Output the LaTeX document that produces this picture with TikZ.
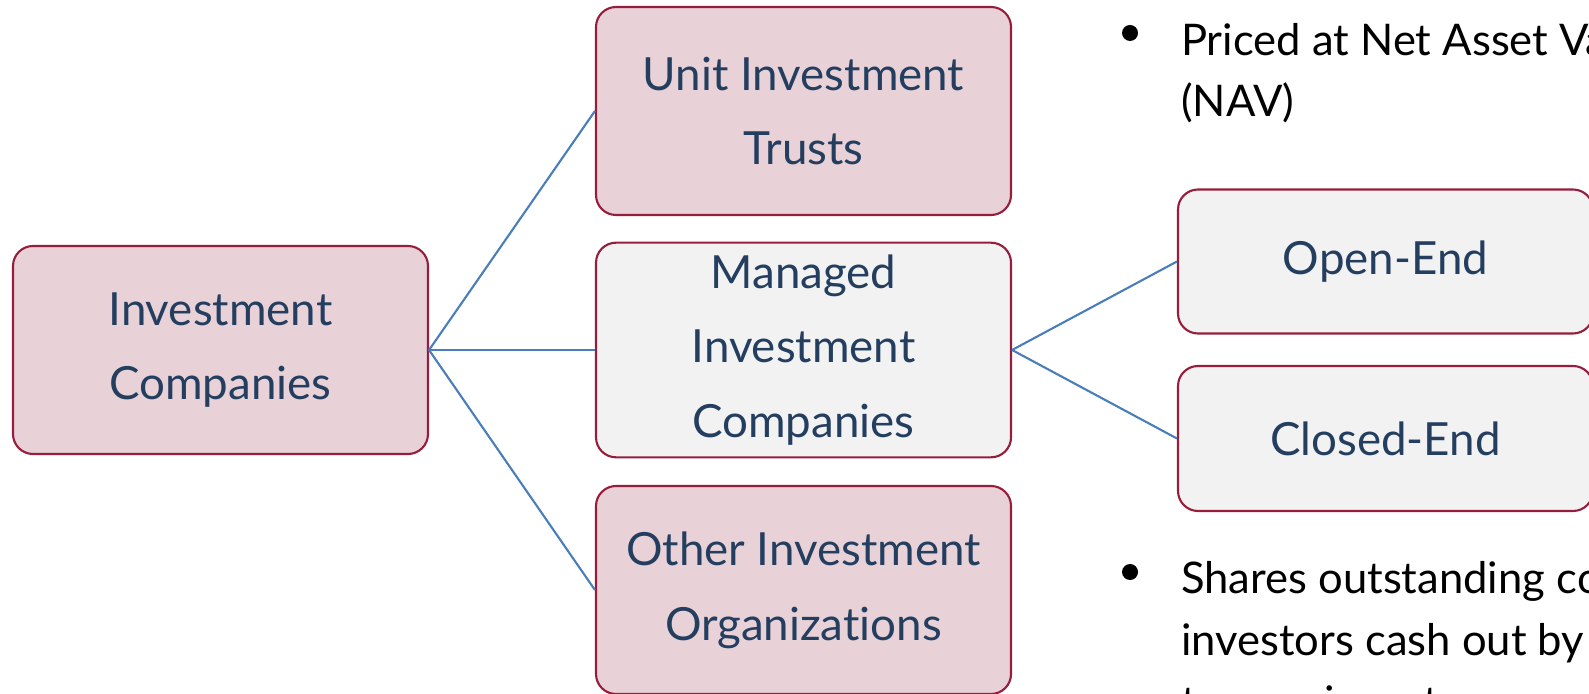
\documentclass[tikz,border=0pt]{standalone}
\usepackage{fontspec}
\setmainfont{Lato}[Ligatures=NoCommon]
\usepackage{tikz}
\usetikzlibrary{arrows.meta}
\usetikzlibrary{calc}

\definecolor{boxline}{RGB}{150,30,60}
\definecolor{pinkfill}{RGB}{232,209,215}
\definecolor{greyfill}{RGB}{242,242,242}
\definecolor{boxtext}{RGB}{36,62,96}
\definecolor{linkblue}{RGB}{74,126,187}

\begin{document}
\begin{tikzpicture}[auto, line width=0.6pt,
        pink_node_style/.style={rectangle,rounded corners=0.2cm,draw=boxline,fill=pinkfill,text=boxtext,minimum width=4.15cm,minimum height=2.08cm,align=center,font=\fontsize{13}{21.3}\selectfont},
        grey_node_style/.style={pink_node_style,fill=greyfill},
        edge_style/.style={draw=linkblue, line width=0.6pt,-},
        dot_style/.style={circle,fill=black,inner sep=0pt,minimum size=0.16cm},
        bullet_style/.style={anchor=base west,align=left,inner sep=0pt,font=\fontsize{12.4}{17.5}\selectfont}]

        \useasboundingbox (0,0) rectangle (15.89,6.93);

        \node [pink_node_style](invest) at (2.205,3.43) {Investment\\Companies};
        \node [pink_node_style](unit) at (8.035,5.82) {Unit Investment\\Trusts};
        \node [grey_node_style](managed) at (8.035,3.43) {Managed\\Investment\\Companies};
        \node [pink_node_style](other) at (8.035,1.03) {Other Investment\\Organizations};
        \node [grey_node_style,minimum height=1.44cm](open) at (13.855,4.315) {Open-End};
        \node [grey_node_style,minimum height=1.45cm](closed) at (13.855,2.545) {Closed-End};

        % base anchor sits on the last line
        \node [dot_style](dot1) at (11.30,6.60) {};
        \node [bullet_style](text1) at (11.80,5.76) {Priced at Net Asset Value\\(NAV)};
        \node [dot_style](dot2) at (11.30,1.21) {};
        \node [bullet_style](text2) at (11.80,-0.24) {Shares outstanding constant;\\investors cash out by selling\\to new investors};

        \draw [edge_style] (invest.east) edge (unit.west);
        \draw [edge_style] (invest.east) edge (managed.west);
        \draw [edge_style] (invest.east) edge (other.west);
        \draw [edge_style] (managed.east) edge (open.west);
        \draw [edge_style] (managed.east) edge (closed.west);
        \end{tikzpicture}
\end{document}
